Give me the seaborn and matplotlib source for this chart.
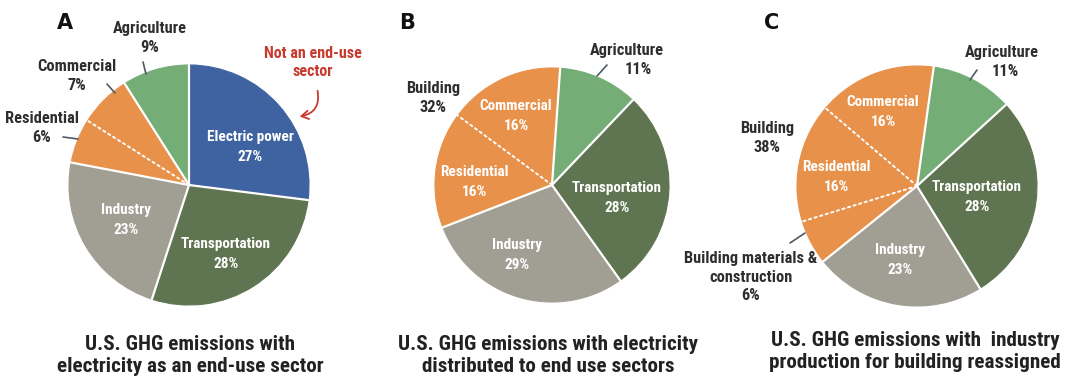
import numpy as np
import matplotlib
matplotlib.use("Agg")
import matplotlib.pyplot as plt
from matplotlib import font_manager
from matplotlib.patches import FancyArrowPatch
import seaborn as sns

# ---------------- data ----------------
sectors_a = ["Electric power", "Transportation", "Industry", "Residential", "Commercial", "Agriculture"]
shares_a = [27, 28, 23, 6, 7, 9]

sectors_b = ["Agriculture", "Transportation", "Industry", "Residential", "Commercial"]
shares_b = [11, 28, 29, 16, 16]
building_share_b = 32

sectors_c = ["Agriculture", "Transportation", "Industry", "Building materials & construction",
             "Residential", "Commercial"]
shares_c = [11, 28, 23, 6, 16, 16]
building_share_c = 38

panel_letters = ["A", "B", "C"]
titles = [
    "U.S. GHG emissions with\nelectricity as an end-use sector",
    "U.S. GHG emissions with electricity\ndistributed to end use sectors",
    "U.S. GHG emissions with  industry\nproduction for building reassigned",
]
note_text = "Not an end-use\nsector"

# ---------------- style ----------------
sns.set_theme(style="white")

names = {f.name for f in font_manager.fontManager.ttflist}
condensed_dejavu = any(f.name == "DejaVu Sans" and f.stretch == "condensed"
                       for f in font_manager.fontManager.ttflist)
FONT = dict(family="DejaVu Sans")
for cand in ["Liberation Sans Narrow", "Roboto Condensed", "Open Sans Condensed", "Noto Sans Condensed"]:
    if cand in names:
        FONT = dict(family=cand)
        break
else:
    if condensed_dejavu:
        FONT = dict(family="DejaVu Sans", stretch="condensed")
plt.rcParams["font.family"] = [FONT["family"], "DejaVu Sans"]

palette = {
    "Electric power": "#3F63A0",
    "Transportation": "#5F7450",
    "Industry": "#A19E93",
    "Residential": "#E8914B",
    "Commercial": "#E8914B",
    "Building materials & construction": "#E8914B",
    "Agriculture": "#75AD77",
}
group = {s: s for s in palette}
for s in ["Residential", "Commercial", "Building materials & construction"]:
    group[s] = "Building"

DARK = "#2E2E2E"
LEADER = "#4F5A64"
RED = "#C8392E"

W, H = 1066, 379
fig = plt.figure(figsize=(W / 100, H / 100), dpi=100)
ax = fig.add_axes([0, 0, 1, 1])


def P(x, y):
    """Figure-pixel position (origin top-left) to data coordinates."""
    return (x, H - y)


def draw_pie(labels, values, center, radius, startangle):
    c = P(*center)
    colors = [palette[s] for s in labels]
    wedges, _ = ax.pie(values, colors=colors, startangle=startangle, counterclock=False,
                       center=c, radius=radius, frame=True,
                       wedgeprops=dict(linewidth=0.8))
    for w, col in zip(wedges, colors):
        w.set_edgecolor(col)
    total = float(sum(values))
    cum = np.concatenate([[0], np.cumsum(values)])
    for i in range(len(values)):
        ang = np.deg2rad(startangle - 360.0 * cum[i] / total)
        xs = [c[0], c[0] + radius * np.cos(ang)]
        ys = [c[1], c[1] + radius * np.sin(ang)]
        prev, cur = labels[i - 1], labels[i]
        if group[prev] == group[cur]:
            ax.plot(xs, ys, color="white", lw=1.4, ls=(0, (1.2, 1.8)),
                    solid_capstyle="round", dash_capstyle="round")
        else:
            ax.plot(xs, ys, color="white", lw=1.6)


def inside(x, y, text):
    ax.text(*P(x, y), text, ha="center", va="center", color="white", fontsize=11,
            fontweight="bold", linespacing=1.5, **FONT)


def outside(x, y, text, **kw):
    ax.text(*P(x, y), text, ha=kw.pop("ha", "center"), va="center", color=DARK,
            fontsize=11.8, fontweight="bold", linespacing=1.3, **FONT, **kw)


def leader(x0, y0, x1, y1):
    ax.plot([P(x0, y0)[0], P(x1, y1)[0]], [P(x0, y0)[1], P(x1, y1)[1]], color=LEADER, lw=1.2)


def pct(v):
    return f"{v}%"


# ---------------- panel A ----------------
draw_pie(sectors_a, shares_a, (189, 185), 120, 90)
va = dict(zip(sectors_a, shares_a))
inside(250, 147, f"Electric power\n{pct(va['Electric power'])}")
inside(226, 254, f"Transportation\n{pct(va['Transportation'])}")
inside(126, 220, f"Industry\n{pct(va['Industry'])}")
outside(150, 38, f"Agriculture\n{pct(va['Agriculture'])}")
leader(143, 62, 146, 74)
outside(77, 76, f"Commercial\n{pct(va['Commercial'])}")
leader(107, 84, 115, 93)
outside(42, 128, f"Residential\n{pct(va['Residential'])}")
leader(63, 137, 78, 139)
ax.text(*P(313, 62), note_text, ha="center", va="center", color=RED, fontsize=11.5,
        fontweight="bold", linespacing=1.25, **FONT)
arrow = FancyArrowPatch(P(317, 88), P(297, 117), connectionstyle="arc3,rad=-0.55",
                        arrowstyle="->,head_length=5,head_width=3", color=RED, lw=1.3)
ax.add_patch(arrow)

# ---------------- panel B ----------------
draw_pie(sectors_b, shares_b, (552, 185), 117, 86)
vb = dict(zip(sectors_b, shares_b))
inside(516, 116, f"Commercial\n{pct(vb['Commercial'])}")
inside(474, 182, f"Residential\n{pct(vb['Residential'])}")
inside(617, 198, f"Transportation\n{pct(vb['Transportation'])}")
inside(517, 255, f"Industry\n{pct(vb['Industry'])}")
outside(627, 50, "Agriculture")
outside(638, 70, pct(vb["Agriculture"]))
leader(597, 76, 607, 65)
outside(433, 98, f"Building\n{pct(building_share_b)}")

# ---------------- panel C ----------------
draw_pie(sectors_c, shares_c, (917, 186), 120, 82)
vc = dict(zip(sectors_c, shares_c))
inside(883, 112, f"Commercial\n{pct(vc['Commercial'])}")
inside(836, 177, f"Residential\n{pct(vc['Residential'])}")
inside(977, 197, f"Transportation\n{pct(vc['Transportation'])}")
inside(900, 260, f"Industry\n{pct(vc['Industry'])}")
outside(1002, 52, "Agriculture")
outside(1005, 71, pct(vc["Agriculture"]))
leader(970, 80, 977, 70)
outside(767, 138, f"Building\n{pct(building_share_c)}")
outside(751, 277, f"Building materials &\nconstruction\n{pct(vc['Building materials & construction'])}")
leader(790, 243, 805, 233)

# ---------------- letters and titles ----------------
for x, letter in zip([65, 407, 772], panel_letters):
    ax.text(*P(x, 23), letter, ha="center", va="center", color="#111111", fontsize=15,
            fontweight="bold", family="DejaVu Sans")
for (x, y), t in zip([(190, 356), (548, 356), (915, 352)], titles):
    ax.text(*P(x, y), t, ha="center", va="center", color="#222222", fontsize=15.2,
            fontweight="bold", linespacing=1.2, **FONT)

ax.set_xlim(0, W)
ax.set_ylim(0, H)
ax.set_aspect("equal")
ax.axis("off")

fig.savefig("out.png", dpi=100, facecolor="white")
